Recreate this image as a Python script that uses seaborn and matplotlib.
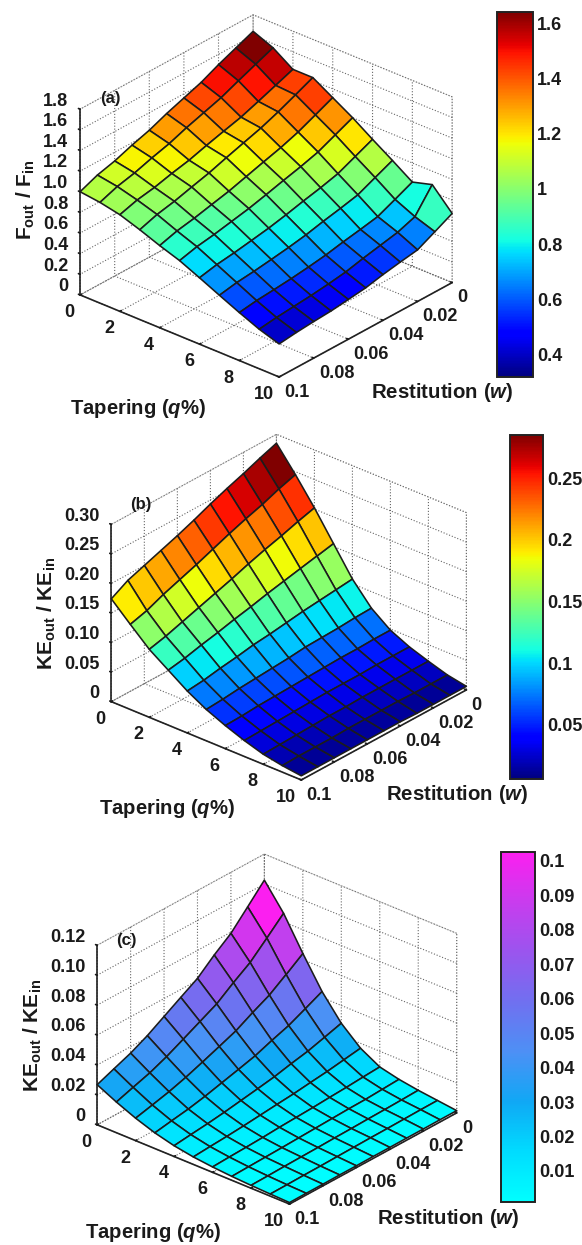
import numpy as np
import matplotlib
matplotlib.use('Agg')
import matplotlib.pyplot as plt
from matplotlib.cm import ScalarMappable
from matplotlib.colors import Normalize
import seaborn as sns

W_PX, H_PX = 582, 1245

tapering = [0, 1, 2, 3, 4, 5, 6, 7, 8, 9, 10]
restitution = [0.1, 0.09, 0.08, 0.07, 0.06, 0.05, 0.04, 0.03, 0.02, 0.01, 0]
q_ticks = [0, 2, 4, 6, 8, 10]
w_ticks = [0, 0.02, 0.04, 0.06, 0.08, 0.1]
w_labels = ['0', '0.02', '0.04', '0.06', '0.08', '0.1']
cyan_purple = ['#00ffff', '#00dcff', '#10a8f5', '#4d90f5', '#7070f0', '#9a55ee', '#c83cee', '#fb1ff0']

# one row per tapering value, restitution running 0.1 -> 0
force_ratio = [
    [1.00, 1.07, 1.115, 1.177, 1.23, 1.30, 1.36, 1.42, 1.50, 1.57, 1.64],
    [.976, 1.038, 1.078, 1.132, 1.179, 1.242, 1.296, 1.350, 1.422, 1.491, 1.56],
    [.936, .987, 1.017, 1.061, 1.098, 1.149, 1.196, 1.241, 1.302, 1.366, 1.43],
    [.87, .926, .962, 1.009, 1.054, 1.11, 1.163, 1.215, 1.28, 1.354, 1.43],
    [.796, .846, .878, .918, .957, 1.007, 1.057, 1.105, 1.164, 1.239, 1.315],
    [.73, .773, .80, .834, .868, .911, .957, 1.0, 1.05, 1.125, 1.20],
    [.643, .679, .701, .729, .758, .795, .837, .875, .92, .995, 1.07],
    [.553, .584, .602, .625, .65, .68, .72, .755, .794, .87, .945],
    [.465, .489, .503, .519, .54, .565, .60, .63, .663, .738, .815],
    [.383, .405, .42, .435, .455, .48, .52, .555, .59, .65, .87],
    [.32, .34, .354, .365, .385, .406, .443, .473, .50, .584, .67],
]
ke_ratio_b = [
    [.174, .190, .200, .210, .220, .231, .243, .254, .264, .275, .285],
    [.144, .152, .164, .174, .184, .195, .206, .216, .225, .236, .245],
    [.115, .122, .131, .140, .149, .158, .168, .177, .185, .194, .202],
    [.093, .098, .105, .111, .118, .124, .131, .137, .143, .149, .155],
    [.071, .074, .079, .083, .088, .091, .095, .099, .102, .105, .108],
    [.053, .055, .058, .060, .062, .064, .067, .068, .069, .071, .072],
    [.039, .040, .042, .043, .044, .045, .046, .047, .047, .048, .048],
    [.027, .028, .029, .030, .031, .032, .032, .032, .033, .033, .033],
    [.017, .018, .019, .020, .021, .021, .022, .022, .022, .022, .022],
    [.011, .012, .012, .012, .013, .013, .013, .013, .012, .012, .012],
    [.007, .007, .007, .007, .007, .007, .007, .006, .006, .006, .006],
]
ke_ratio_c = [
    [.0268, .0313, .0357, .0413, .048, .0547, .0613, .0708, .0792, .0908, .1026],
    [.0205, .0242, .0278, .0325, .0381, .0438, .0495, .0576, .0650, .0752, .0857],
    [.0150, .0177, .0205, .0240, .0281, .0324, .0368, .0429, .0485, .0562, .0642],
    [.0105, .0124, .0142, .0166, .0195, .0224, .0254, .0296, .0334, .0386, .044],
    [.0072, .0085, .0097, .0112, .0130, .0148, .0167, .0193, .0216, .0248, .0281],
    [.0050, .0058, .0065, .0074, .0085, .0096, .0106, .0120, .0133, .0150, .0167],
    [.0036, .0041, .0045, .0050, .0057, .0062, .0067, .0074, .0080, .0088, .0095],
    [.0026, .0029, .0032, .0035, .0039, .0043, .0047, .0051, .0053, .0059, .0065],
    [.0019, .0021, .0024, .0026, .0028, .0031, .0033, .0036, .0038, .0041, .0045],
    [.0014, .0015, .0017, .0018, .0020, .0022, .0024, .0025, .0027, .0029, .0030],
    [.0010, .0011, .0011, .0012, .0012, .0013, .0013, .0014, .0014, .0015, .0015],
]

sns.set_theme(style='white')
plt.rcParams['font.family'] = ['Liberation Sans', 'DejaVu Sans']
plt.rcParams['font.weight'] = 'bold'
plt.rcParams['mathtext.fontset'] = 'custom'
plt.rcParams['mathtext.rm'] = 'Liberation Sans:bold'
plt.rcParams['mathtext.bf'] = 'Liberation Sans:bold'
plt.rcParams['mathtext.it'] = 'Liberation Sans:italic:bold'

fig = plt.figure(figsize=(W_PX / 100, H_PX / 100), dpi=100, facecolor='white')


def px_text(x, y, s, **kw):
    kw.setdefault('ha', 'center')
    kw.setdefault('va', 'center')
    kw.setdefault('color', '#1a1a1a')
    fig.text(x / W_PX, 1 - y / H_PX, s, **kw)


def surface_panel(z_rows, z_ticks, z_labels, z_top, cmap, center, side):
    cx, cy = center
    ax = fig.add_axes([(cx - side / 2) / W_PX, 1 - (cy + side / 2) / H_PX,
                       side / W_PX, side / H_PX], projection='3d',
                      proj_type='ortho', facecolor='none')
    # rows reversed so each cell takes its colour from its low-w corner
    z = np.array(z_rows)[:, ::-1]
    w = np.array(restitution)[::-1]
    Q, Wg = np.meshgrid(tapering, w, indexing='ij')
    norm = Normalize(z.min(), z.max())
    ax.plot_surface(Q, Wg, z, facecolors=cmap(norm(z)), rstride=1, cstride=1,
                    shade=False, edgecolor='#1c1c1c', linewidth=1.15)
    ax.set_xlim(0, 10, view_margin=0)
    ax.set_ylim(0.1, 0, view_margin=0)
    ax.set_zlim(0, z_top, view_margin=0)
    ax.set_box_aspect((1, 1, 0.80))
    ax.view_init(elev=28.3, azim=-49)
    ax.set_xticks(q_ticks)
    ax.set_yticks(w_ticks)
    ax.set_yticklabels(w_labels)
    ax.set_zticks(z_ticks)
    ax.set_zticklabels(z_labels)
    ax.zaxis.set_ticks_position('upper')
    ax.tick_params(axis='both', labelsize=13, colors='#1a1a1a')
    ax.tick_params(axis='x', pad=-3)
    ax.tick_params(axis='y', pad=-4)
    ax.tick_params(axis='z', pad=-3)
    plt.setp(ax.get_xticklabels(), ha='right')
    plt.setp(ax.get_yticklabels(), ha='left')
    plt.setp(ax.get_zticklabels(), ha='right', va='bottom')
    for axis in (ax.xaxis, ax.yaxis, ax.zaxis):
        axis.pane.set_facecolor((1, 1, 1, 0))
        axis.pane.set_edgecolor('#666666')
        axis.pane.set_linestyle(':')
        axis.pane.set_linewidth(0.8)
        axis.line.set_color('#222222')
        axis.line.set_linewidth(1.2)
        axis._axinfo['grid'].update(color='#666666', linestyle=':', linewidth=0.8)
        axis._axinfo['tick'].update(inward_factor=0.0, outward_factor=0.1)
    return norm


def add_bar(cmap, norm, box, ticks, labels):
    x0, x1, y0, y1 = box
    cax = fig.add_axes([x0 / W_PX, 1 - y1 / H_PX, (x1 - x0) / W_PX, (y1 - y0) / H_PX])
    cb = fig.colorbar(ScalarMappable(norm=norm, cmap=cmap), cax=cax)
    cb.set_ticks(ticks)
    cb.set_ticklabels(labels)
    cb.ax.tick_params(direction='in', left=True, right=True, length=3, width=1,
                      labelsize=13, pad=3, colors='#1a1a1a')
    cb.outline.set_linewidth(1.4)
    cb.outline.set_edgecolor('#222222')


jet = matplotlib.colormaps['jet']
cool_map = sns.blend_palette(cyan_purple, as_cmap=True)

norm_a = surface_panel(force_ratio, [0, .2, .4, .6, .8, 1, 1.2, 1.4, 1.6, 1.8],
                       ['0', '0.2', '0.4', '0.6', '0.8', '1.0', '1.2', '1.4', '1.6', '1.8'],
                       1.8, jet, (260.5, 201.5), 416)
add_bar(jet, norm_a, (497, 533, 12, 377), [.4, .6, .8, 1, 1.2, 1.4, 1.6],
        ['0.4', '0.6', '0.8', '1', '1.2', '1.4', '1.6'])
px_text(110, 98, '(a)', fontsize=12)
px_text(138, 408, r'Tapering ($\mathit{q}$%)', fontsize=14.6)
px_text(442, 393, r'Restitution ($\mathit{w}$)', fontsize=14.7)
px_text(26, 200, r'$\mathregular{F_{out}}$ / $\mathregular{F_{in}}$', fontsize=15, rotation=90)

norm_b = surface_panel(ke_ratio_b, [0, .05, .1, .15, .2, .25, .3],
                       ['0', '0.05', '0.10', '0.15', '0.20', '0.25', '0.30'],
                       0.30, jet, (283.5, 612.5), 397)
add_bar(jet, norm_b, (510, 543, 435, 779), [.05, .1, .15, .2, .25],
        ['0.05', '0.1', '0.15', '0.2', '0.25'])
px_text(141, 504, '(b)', fontsize=12)
px_text(167, 808, r'Tapering ($\mathit{q}$%)', fontsize=14.6)
px_text(457, 795, r'Restitution ($\mathit{w}$)', fontsize=14.7)
px_text(47, 613, r'$\mathregular{KE_{out}}$ / $\mathregular{KE_{in}}$', fontsize=15, rotation=90)

norm_c = surface_panel(ke_ratio_c, [0, .02, .04, .06, .08, .1, .12],
                       ['0', '0.02', '0.04', '0.06', '0.08', '0.10', '0.12'],
                       0.12, cool_map, (271.5, 1034.5), 402)
add_bar(cool_map, norm_c, (501, 535, 852, 1202), [.01, .02, .03, .04, .05, .06, .07, .08, .09, .1],
        ['0.01', '0.02', '0.03', '0.04', '0.05', '0.06', '0.07', '0.08', '0.09', '0.1'])
px_text(126, 940, '(c)', fontsize=12)
px_text(153, 1233, r'Tapering ($\mathit{q}$%)', fontsize=14.6)
px_text(448, 1219, r'Restitution ($\mathit{w}$)', fontsize=14.7)
px_text(33, 1035, r'$\mathregular{KE_{out}}$ / $\mathregular{KE_{in}}$', fontsize=15, rotation=90)

fig.savefig('out.png', dpi=100)
